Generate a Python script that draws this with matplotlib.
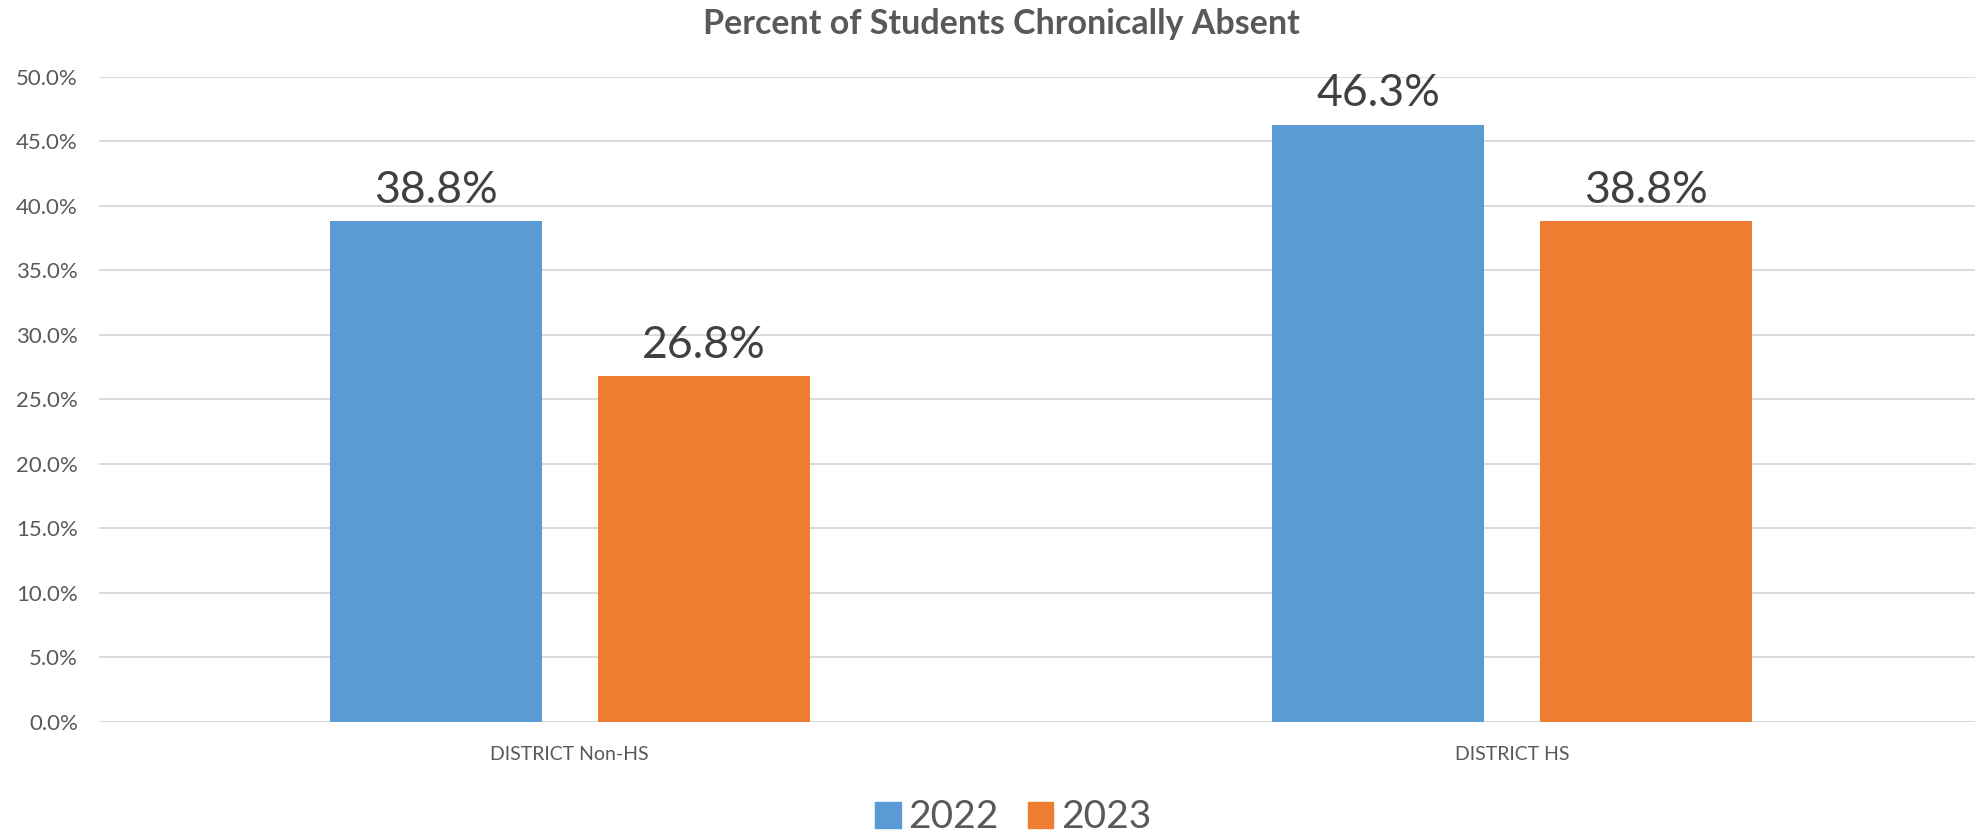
import matplotlib.pyplot as plt
from matplotlib.ticker import PercentFormatter
from matplotlib.patches import Patch
import numpy as np

plt.rcParams["font.family"] = ["Lato", "DejaVu Sans"]

categories = ["DISTRICT Non-HS", "DISTRICT HS"]
years = ["2022", "2023"]
values_2022 = [0.388, 0.463]
values_2023 = [0.268, 0.388]
colors = ["#5B9BD5", "#ED7D31"]

fig = plt.figure(figsize=(19.75, 8.33), dpi=100)
ax = fig.add_axes([0.0500, 0.1333, 0.9540, 0.7743])

x = np.arange(len(categories))
bw = 0.225
off = 0.142
series = [values_2022, values_2023]
for i, (vals, c) in enumerate(zip(series, colors)):
    pos = x + (off if i else -off)
    bars = ax.bar(pos, vals, width=bw, color=c, zorder=3)
    for b, v in zip(bars, vals):
        ax.text(b.get_x() + b.get_width() / 2, v + 0.008, f"{v * 100:.1f}%",
                ha="center", va="bottom", fontsize=32, color="#404040")

ax.set_xlim(-0.5, 1.5)
ax.set_ylim(0, 0.5)
ax.set_yticks(np.arange(0, 0.501, 0.05))
ax.yaxis.set_major_formatter(PercentFormatter(1.0, decimals=1))
ax.set_xticks(x)
ax.set_xticklabels(categories)
ax.grid(axis="y", color="#D9D9D9", lw=1.4, zorder=0)
for s in ax.spines.values():
    s.set_visible(False)
ax.tick_params(axis="both", length=0, colors="#595959", labelsize=16)
ax.tick_params(axis="x", pad=17, labelsize=14)
ax.tick_params(axis="y", pad=15)

fig.suptitle("Percent of Students Chronically Absent", x=0.507, y=0.99,
             fontsize=24.5, fontweight="bold", color="#595959")

handles = [Patch(color=c, label=y) for c, y in zip(colors, years)]
leg = fig.legend(handles=handles, loc="lower center", bbox_to_anchor=(0.513, -0.045),
                 ncol=2, frameon=False, fontsize=28, handlelength=0.65,
                 handleheight=0.65, handletextpad=0.2, columnspacing=0.75)
for t in leg.get_texts():
    t.set_color("#595959")

fig.savefig("out.png", dpi=100)
